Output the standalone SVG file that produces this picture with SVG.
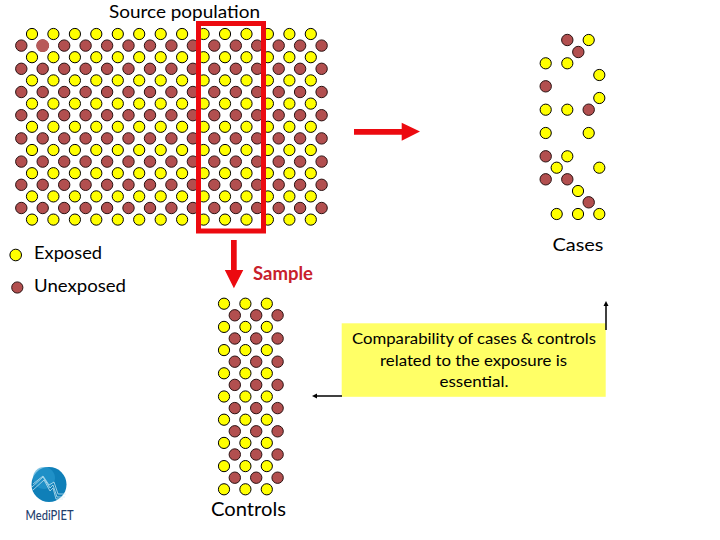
<svg xmlns="http://www.w3.org/2000/svg" width="720" height="540" viewBox="0 0 720 540">
<style>
.y{fill:#FFFF00;stroke:#000;stroke-width:1}
.p{fill:#B24F4F;stroke:#2a1212;stroke-width:1}
text{font-family:Lato,"Liberation Sans",sans-serif;fill:#000}
.m{text-anchor:middle}
</style>
<defs>
<circle id="a" class="y" r="5.6"/>
<circle id="b" class="p" r="5.7"/>
<g id="ry"><use href="#a" x="32"/><use href="#a" x="53.4"/><use href="#a" x="74.9"/><use href="#a" x="96.3"/><use href="#a" x="117.8"/><use href="#a" x="139.2"/><use href="#a" x="160.7"/><use href="#a" x="182.1"/><use href="#a" x="203.6"/><use href="#a" x="225"/><use href="#a" x="246.5"/><use href="#a" x="267.9"/><use href="#a" x="289.4"/><use href="#a" x="310.8"/></g>
<g id="rp"><use href="#b" x="21.3"/><use href="#b" x="42.7"/><use href="#b" x="64.2"/><use href="#b" x="85.6"/><use href="#b" x="107.1"/><use href="#b" x="128.5"/><use href="#b" x="150"/><use href="#b" x="171.4"/><use href="#b" x="192.9"/><use href="#b" x="214.3"/><use href="#b" x="235.8"/><use href="#b" x="257.2"/><use href="#b" x="278.7"/><use href="#b" x="300.1"/><use href="#b" x="321.6"/></g>
<g id="cy"><use href="#a" x="224"/><use href="#a" x="245.4"/><use href="#a" x="266.8"/></g>
<g id="cp"><use href="#b" x="234.8"/><use href="#b" x="256.2"/><use href="#b" x="277.6"/></g>
</defs>
<rect width="720" height="540" fill="#fff"/>

<g id="source-population">
<use href="#ry" y="34"/><use href="#ry" y="57.2"/><use href="#ry" y="80.4"/><use href="#ry" y="103.6"/><use href="#ry" y="126.8"/><use href="#ry" y="150"/><use href="#ry" y="173.2"/><use href="#ry" y="196.4"/><use href="#ry" y="219.6"/>
<use href="#rp" y="45.6"/><use href="#rp" y="68.8"/><use href="#rp" y="92"/><use href="#rp" y="115.2"/><use href="#rp" y="138.4"/><use href="#rp" y="161.6"/><use href="#rp" y="184.8"/><use href="#rp" y="208"/>
<circle cx="42.7" cy="45.6" r="6.4" fill="#B85A5A"/>
<text x="184.5" y="18" class="m" font-size="17" textLength="151" lengthAdjust="spacingAndGlyphs">Source population</text>
</g>

<g id="sample-frame"><rect x="198.5" y="23.5" width="65" height="207.5" fill="none" stroke="#EC0A10" stroke-width="5"/></g>

<g id="legend">
<circle cx="15.7" cy="255" r="5.8" fill="#FFFF00" stroke="#000"/>
<circle cx="17.3" cy="287.5" r="5.6" fill="#B24F4F" stroke="#2a1212"/>
<text x="34" y="259" font-size="17" textLength="68" lengthAdjust="spacingAndGlyphs">Exposed</text>
<text x="34" y="291.5" font-size="17" textLength="92" lengthAdjust="spacingAndGlyphs">Unexposed</text>
</g>

<g id="cases">
<use href="#b" x="567.3" y="40"/><use href="#a" x="588.7" y="40"/><use href="#b" x="578.3" y="52"/>
<use href="#a" x="545.7" y="63.3"/><use href="#a" x="567.3" y="63.3"/><use href="#a" x="599.3" y="75"/>
<use href="#b" x="545.7" y="86.3"/><use href="#a" x="599.3" y="98"/>
<use href="#a" x="545.7" y="109.7"/><use href="#a" x="567.3" y="109.7"/><use href="#b" x="588.7" y="109.7"/>
<use href="#a" x="545.7" y="133"/><use href="#a" x="588.7" y="133"/>
<use href="#b" x="545.7" y="156.3"/><use href="#a" x="567.3" y="156.3"/>
<use href="#a" x="556.7" y="167.7"/><use href="#a" x="599.3" y="167.7"/>
<use href="#b" x="545.7" y="179.3"/><use href="#b" x="567.3" y="179.3"/>
<use href="#a" x="578" y="191"/><use href="#b" x="588.7" y="202.3"/>
<use href="#a" x="556.7" y="214"/><use href="#a" x="578" y="214"/><use href="#a" x="599.3" y="214"/>
<text x="578" y="251" class="m" font-size="18" textLength="51" lengthAdjust="spacingAndGlyphs">Cases</text>
</g>

<g id="controls">
<use href="#cy" y="303.7"/><use href="#cy" y="326.9"/><use href="#cy" y="350.1"/><use href="#cy" y="373.3"/><use href="#cy" y="396.5"/><use href="#cy" y="419.7"/><use href="#cy" y="442.9"/><use href="#cy" y="466.1"/><use href="#cy" y="489.3"/>
<use href="#cp" y="315.3"/><use href="#cp" y="338.5"/><use href="#cp" y="361.7"/><use href="#cp" y="384.9"/><use href="#cp" y="408.1"/><use href="#cp" y="431.3"/><use href="#cp" y="454.5"/><use href="#cp" y="477.7"/>
<text x="248.5" y="516" class="m" font-size="20" textLength="75" lengthAdjust="spacingAndGlyphs">Controls</text>
</g>

<g id="note">
<rect x="341.7" y="323.3" width="264" height="73.5" fill="#FFFF66"/>
<text x="474" y="344" class="m" font-size="16" textLength="244" lengthAdjust="spacingAndGlyphs">Comparability of cases &amp; controls</text>
<text x="473.5" y="366" class="m" font-size="16" textLength="187" lengthAdjust="spacingAndGlyphs">related to the exposure is</text>
<text x="474" y="387" class="m" font-size="16" textLength="69" lengthAdjust="spacingAndGlyphs">essential.</text>
</g>

<g id="connectors">
<path d="M231 240h5.700v30h6.600l-9.400 18.300-9.100-18.300h6.200z" fill="#EC0A10"/>
<path d="M354 129h47.700v-6.300l18.300 8.800-18.300 9.200v-6h-47.700z" fill="#EC0A10"/>
<path d="M606 330v-26" stroke="#000" stroke-width="1.500" fill="none"/><path d="M606 301l-2.500 5h5z" fill="#000"/>
<path d="M342 396h-26" stroke="#000" stroke-width="1.500" fill="none"/><path d="M312 396l5-2.500v5z" fill="#000"/>
</g>

<text id="sample-label" x="283" y="279.5" class="m" font-size="18" font-weight="700" style="fill:#C8202C" textLength="60" lengthAdjust="spacingAndGlyphs">Sample</text>

<g id="logo">
<circle cx="49" cy="484.5" r="17.5" fill="#0F7FB8"/>
<circle cx="44" cy="478" r="11" fill="#2A9BD0" opacity=".6"/>
<path d="M32 487L43 477 50 488 53 485 57 497H65M33 484L43 476 49 485 54 482 58 494H66M33 490L44 480 50 491 53 488 56 499H63" fill="none" stroke="#CFEBF5" stroke-width=".9" opacity=".8"/>
<text x="49.500" y="520" class="m" font-size="13" font-weight="500" style="fill:#24406E" textLength="48" lengthAdjust="spacingAndGlyphs">MediPIET</text>
</g>
</svg>
